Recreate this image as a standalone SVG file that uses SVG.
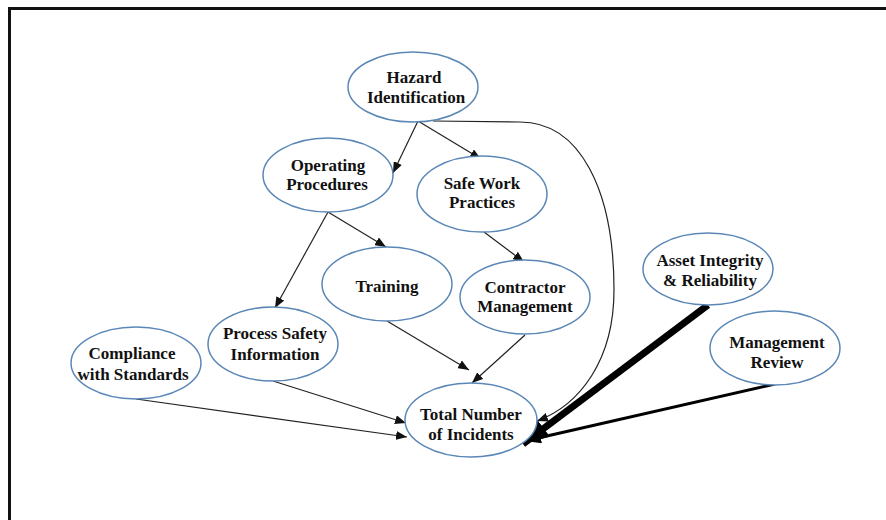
<svg xmlns="http://www.w3.org/2000/svg" width="886" height="520" viewBox="0 0 886 520">
  <style>
    .node ellipse { fill: #ffffff; stroke: #5b87b7; stroke-width: 1.5; }
    .node text { font-family: "Liberation Serif", "Times New Roman", serif; font-weight: bold; font-size: 17px; fill: #111111; text-anchor: middle; }
    .edge { fill: none; stroke: #222222; stroke-width: 1.2; }
    .edge-heavy { fill: none; stroke: #000000; stroke-width: 7; }
    .edge-medium { fill: none; stroke: #000000; stroke-width: 3; }
  </style>
  <defs>
    <marker id="arrow" markerUnits="userSpaceOnUse" markerWidth="11" markerHeight="9" refX="11" refY="4.5" orient="auto">
      <path d="M0,0 L11,4.5 L0,9 z" fill="#111111"/>
    </marker>
    <marker id="arrowMid" markerUnits="userSpaceOnUse" markerWidth="16" markerHeight="12" refX="16" refY="6" orient="auto">
      <path d="M0,0 L16,6 L0,12 z" fill="#000000"/>
    </marker>
    <marker id="arrowBig" markerUnits="userSpaceOnUse" markerWidth="26" markerHeight="20" refX="26" refY="10" orient="auto">
      <path d="M0,0 L26,10 L0,20 z" fill="#000000"/>
    </marker>
  </defs>

  <rect width="886" height="520" fill="#ffffff"/>
  <!-- outer frame, open to the right and bottom -->
  <path d="M9.5,520 L9.5,8.5 L886,8.5" fill="none" stroke="#111111" stroke-width="3"/>

  <g id="connectors">
    <line class="edge" x1="418" y1="121" x2="393" y2="173" marker-end="url(#arrow)"/>
    <line class="edge" x1="418" y1="121" x2="481" y2="159" marker-end="url(#arrow)"/>
    <path class="edge" d="M433,121 L520,122 C580,122 614,190 614,290 C614,360 580,405 537,421" marker-end="url(#arrow)"/>
    <line class="edge" x1="328" y1="212" x2="386" y2="247" marker-end="url(#arrow)"/>
    <line class="edge" x1="328" y1="212" x2="275" y2="308" marker-end="url(#arrow)"/>
    <line class="edge" x1="484" y1="232" x2="524" y2="262" marker-end="url(#arrow)"/>
    <line class="edge" x1="387" y1="321" x2="469" y2="370" marker-end="url(#arrow)"/>
    <line class="edge" x1="525" y1="335" x2="472" y2="383" marker-end="url(#arrow)"/>
    <line class="edge" x1="273" y1="381" x2="406" y2="423" marker-end="url(#arrow)"/>
    <line class="edge" x1="136" y1="399" x2="407" y2="437" marker-end="url(#arrow)"/>
    <line class="edge-heavy" x1="708" y1="305" x2="523" y2="444" marker-end="url(#arrowBig)"/>
    <line class="edge-medium" x1="775" y1="384" x2="525" y2="441" marker-end="url(#arrowMid)"/>
  </g>

  <g id="hazard-identification" class="node">
    <ellipse cx="413" cy="87" rx="65" ry="35"/>
    <text x="414" y="83">Hazard</text>
    <text x="416" y="103">Identification</text>
  </g>
  <g id="operating-procedures" class="node">
    <ellipse cx="328" cy="175" rx="65" ry="37"/>
    <text x="328" y="171">Operating</text>
    <text x="327" y="190">Procedures</text>
  </g>
  <g id="safe-work-practices" class="node">
    <ellipse cx="482" cy="194" rx="65" ry="38"/>
    <text x="482" y="189">Safe Work</text>
    <text x="482" y="208">Practices</text>
  </g>
  <g id="training" class="node">
    <ellipse cx="387" cy="284" rx="65" ry="37"/>
    <text x="387" y="292">Training</text>
  </g>
  <g id="contractor-management" class="node">
    <ellipse cx="525" cy="297" rx="65" ry="37"/>
    <text x="525" y="293">Contractor</text>
    <text x="525" y="312">Management</text>
  </g>
  <g id="asset-integrity" class="node">
    <ellipse cx="708" cy="269" rx="65" ry="36"/>
    <text x="710" y="266">Asset Integrity</text>
    <text x="710" y="286">&amp; Reliability</text>
  </g>
  <g id="management-review" class="node">
    <ellipse cx="775" cy="348" rx="65" ry="37"/>
    <text x="777" y="348">Management</text>
    <text x="777" y="368">Review</text>
  </g>
  <g id="process-safety-information" class="node">
    <ellipse cx="273" cy="344" rx="65" ry="37"/>
    <text x="275" y="339">Process Safety</text>
    <text x="275" y="360">Information</text>
  </g>
  <g id="compliance-with-standards" class="node">
    <ellipse cx="136" cy="363" rx="65" ry="36"/>
    <text x="132" y="359">Compliance</text>
    <text x="133" y="380">with Standards</text>
  </g>
  <g id="total-incidents" class="node">
    <ellipse cx="471" cy="420" rx="66" ry="37"/>
    <text x="471" y="420">Total Number</text>
    <text x="471" y="440">of Incidents</text>
  </g>
</svg>
